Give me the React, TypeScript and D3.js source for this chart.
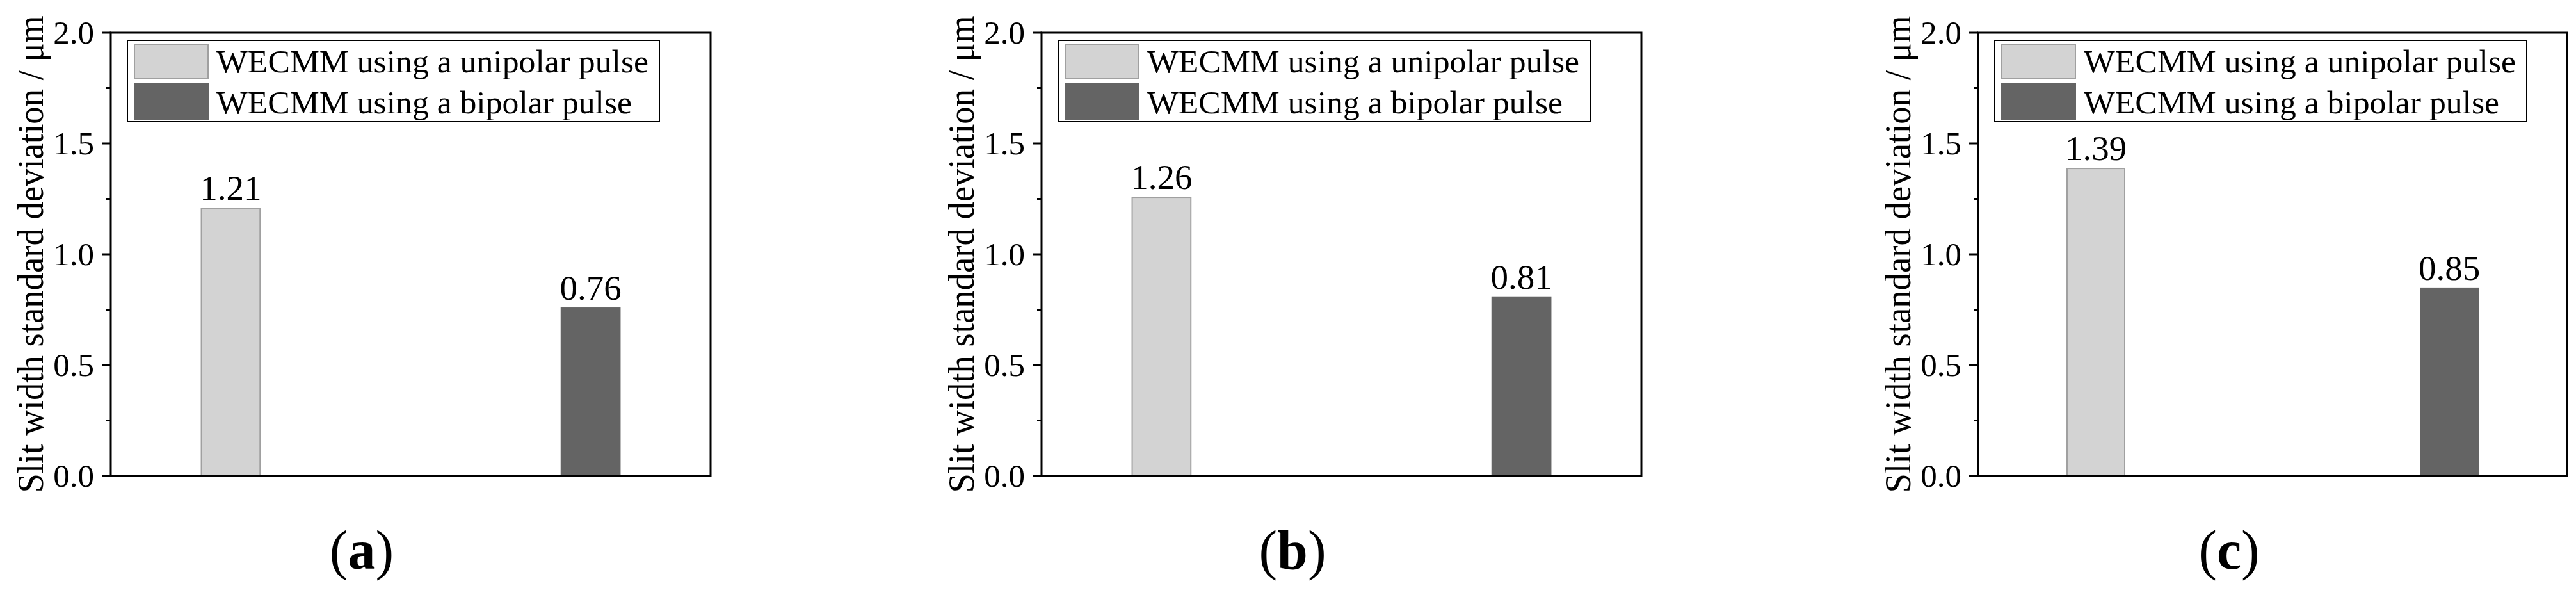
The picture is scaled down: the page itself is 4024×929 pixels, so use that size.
import React from "react";
import { scaleLinear, scalePoint, range } from "d3";

// data
const categories = ["unipolar", "bipolar"];
const legendLabels = ["WECMM using a unipolar pulse", "WECMM using a bipolar pulse"];
const panelLabels = ["a", "b", "c"];
const unipolarValues = [1.21, 1.26, 1.39];
const bipolarValues = [0.76, 0.81, 0.85];
const yTicks = [0, 0.5, 1.0, 1.5, 2.0];
const yTitle = "Slit width standard deviation / μm";

const FONT = "'Liberation Serif', 'Times New Roman', serif";
const fills = ["#d3d3d3", "#646464"];
const strokes = ["#a0a0a0", "#646464"];

// layout of the three panels
const panelLeft = [173, 1627, 3090];
const panelWidth = [937, 937, 920];
const top = 51;
const bottom = 743;

const Panel = ({ idx }: { idx: number }) => {
  const left = panelLeft[idx];
  const right = left + panelWidth[idx];
  const w = right - left;

  const y = scaleLinear().domain([0, 2]).range([bottom, top]);
  const x = scalePoint<string>().domain(categories).range([left, right]).padding(1 / 3);
  const barW = w * 0.1;
  const values = [unipolarValues[idx], bipolarValues[idx]];
  const minor = range(0.25, 2, 0.5);

  const lgLeft = left + 26;
  const lgRight = lgLeft + 831;

  return (
    <g>
      {/* bars */}
      {categories.map((c, i) => {
        const cx = x(c) as number;
        const inset = i === 0 ? 1 : 0;
        return (
          <g key={c}>
            <rect
              x={cx - barW / 2 + inset}
              y={y(values[i]) + inset}
              width={barW - 2 * inset}
              height={y(0) - y(values[i]) - inset}
              fill={fills[i]}
              stroke={i === 0 ? strokes[i] : "none"}
              strokeWidth={2}
            />
            <text x={cx} y={y(values[i]) - 12} textAnchor="middle" fontSize={55} fontFamily={FONT}>
              {values[i].toFixed(2)}
            </text>
          </g>
        );
      })}

      {/* frame */}
      <rect x={left} y={top} width={w} height={bottom - top} fill="none" stroke="#000" strokeWidth={3} />

      {/* y ticks */}
      {yTicks.map(t => (
        <g key={t}>
          <line x1={left - 14} x2={left} y1={y(t)} y2={y(t)} stroke="#000" strokeWidth={3} />
          <text x={left - 26} y={y(t)} dy="0.34em" textAnchor="end" fontSize={51} fontFamily={FONT}>
            {t.toFixed(1)}
          </text>
        </g>
      ))}
      {minor.map(t => (
        <line key={t} x1={left - 7} x2={left} y1={y(t)} y2={y(t)} stroke="#000" strokeWidth={3} />
      ))}

      {/* y title */}
      <text
        transform={`translate(${left - 106},${(top + bottom) / 2}) rotate(-90)`}
        textAnchor="middle"
        fontSize={56}
        fontFamily={FONT}
        textLength={745}
        lengthAdjust="spacingAndGlyphs"
      >
        {yTitle}
      </text>

      {/* legend */}
      <rect x={lgLeft} y={63} width={lgRight - lgLeft} height={127} fill="#fff" stroke="#000" strokeWidth={2} />
      {legendLabels.map((lab, i) => (
        <g key={lab}>
          <rect
            x={lgLeft + 10 + (i === 0 ? 1 : 0)}
            y={i === 0 ? 69 : 130}
            width={117 - (i === 0 ? 2 : 0)}
            height={i === 0 ? 54 : 58}
            fill={fills[i]}
            stroke={i === 0 ? strokes[i] : "none"}
            strokeWidth={2}
          />
          <text
            x={lgLeft + 139}
            y={i === 0 ? 113 : 177}
            fontSize={51}
            fontFamily={FONT}
            textLength={i === 0 ? 675 : 649}
            lengthAdjust="spacingAndGlyphs"
          >
            {lab}
          </text>
        </g>
      ))}

      {/* caption */}
      <text x={left + 392} y={888} textAnchor="middle" fontSize={86} fontFamily={FONT}>
        (<tspan fontWeight="bold">{panelLabels[idx]}</tspan>)
      </text>
    </g>
  );
};

export default function App() {
  return (
    <svg
      width={4024}
      height={929}
      style={{ position: "absolute", left: 0, top: 0, display: "block", background: "#fff" }}
    >
      <rect width={4024} height={929} fill="#fff" />
      {panelLabels.map((p, i) => (
        <Panel key={p} idx={i} />
      ))}
    </svg>
  );
}
